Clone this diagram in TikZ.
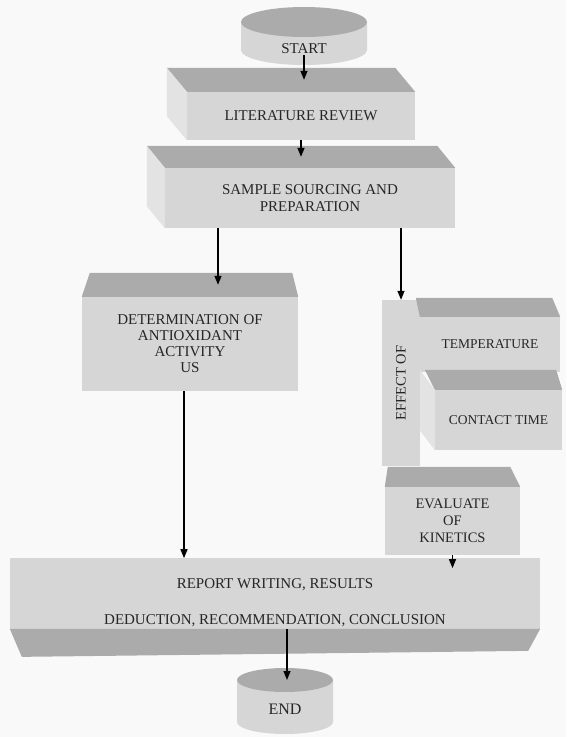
\documentclass[tikz,border=0pt]{standalone}
\usepackage{fontspec}
\setmainfont{Liberation Serif}
\usetikzlibrary{arrows.meta, calc}
\tikzstyle{front} = [fill=gray!32]
\tikzstyle{roof} = [fill=gray!66]
\tikzstyle{flank} = [fill=gray!22]
\tikzstyle{face} = [front, rectangle, inner sep=2pt, align=center, text=black!85, font=\fontsize{15}{17}\selectfont]
\tikzstyle{smalltext} = [font=\fontsize{13.5}{16}\selectfont]
\tikzstyle{midtext} = [font=\fontsize{14.5}{17}\selectfont]
\tikzstyle{flow} = [-{Triangle[length=9pt,width=7pt]}, line width=1.3pt]
\newcommand{\roof}[4]{\fill[roof] (#1.north west) -- (#1.north east) -- ++(#3,#4) -- ($(#1.north west)+(#2,#4)$) -- cycle;}
\newcommand{\flank}[3]{\fill[flank] (#1.north west) -- (#1.south west) -- ++(#2,#3) -- ($(#1.north west)+(#2,#3)$) -- cycle;}
\newcommand{\drum}[6]{%
  \fill[front] (#2-#4,#3) -- (#2-#4,#3+#6) arc[start angle=180, end angle=0, x radius=#4, y radius=#5] -- (#2+#4,#3) -- cycle;
  \fill[roof] (#2,#3) ellipse[x radius=#4, y radius=#5];
  \coordinate (#1-in) at (#2,#3);}
\begin{document}
\begin{tikzpicture}[x=1pt, y=-1pt]
\fill[gray!5] (0,0) rectangle (566,737);
\useasboundingbox (0,0) rectangle (566,737);

\drum{start}{304}{22}{63}{15}{28}
\node[inner sep=1pt, text=black!85, font=\fontsize{15}{17}\selectfont] (start) at (304,49) {START};

\node[face, minimum width=228pt, minimum height=48pt] (lit) at (301,116) {LITERATURE REVIEW};
\roof{lit}{-20}{-20}{-24}
\flank{lit}{-20}{-24}
\coordinate (lit-in) at ([yshift=12pt]lit.north);

\node[face, minimum width=290pt, minimum height=60pt] (sample) at (310,198) {SAMPLE SOURCING AND\\PREPARATION};
\roof{sample}{-18}{-18}{-22}
\flank{sample}{-18}{-22}
\coordinate (sample-in) at ([yshift=11pt]sample.north);

\node[face, minimum width=216pt, minimum height=94pt, font=\fontsize{15}{16}\selectfont] (det) at (190,344) {DETERMINATION OF\\ANTIOXIDANT\\ACTIVITY\\US};
\roof{det}{8}{-6}{-24}
\coordinate (det-in) at ([xshift=28pt,yshift=12pt]det.north);

\node[face, midtext, rotate=90, minimum width=166pt, minimum height=38pt] (effect) at (401,383) {EFFECT OF};

\node[face, smalltext, minimum width=140pt, minimum height=55pt] (temp) at (490,344.5) {TEMPERATURE};
\roof{temp}{-4}{-8}{-19}

\node[face, smalltext, minimum width=127pt, minimum height=60pt] (contact) at (498.5,420) {CONTACT TIME};
\roof{contact}{-10}{-6}{-20}
\flank{contact}{-15}{-20}

\node[face, midtext, minimum width=135pt, minimum height=68pt] (eval) at (452.5,521) {EVALUATE\\OF\\KINETICS};
\roof{eval}{3}{-10}{-20}

\node[face, minimum width=530pt, minimum height=63pt] (report) at (275,593.5) {\rule{0pt}{28pt}REPORT WRITING, RESULTS\\[19pt]DEDUCTION, RECOMMENDATION, CONCLUSION};
\fill[roof] (report.south west) -- (report.south east) -- ++(-12,22) -- ($(report.south west)+(12,28)$) -- cycle;

\drum{stop}{285}{680}{48}{12}{42}
\node[inner sep=1pt, text=black!85, font=\fontsize{16}{18}\selectfont] (stop) at (285,709) {END};

\draw[flow] (start.south) -- (start.south |- lit-in);
\draw[flow] (lit.south) -- (lit.south |- sample-in);
\draw[flow] (sample.south -| det-in) -- (det-in);
\draw[flow] (sample.south -| effect.east) -- (effect.east);
\draw[flow] ([xshift=-6pt]det.south) -- ([xshift=-6pt]det.south |- report.north);
\draw[flow] (eval.south) -- ([yshift=-10pt]eval.south |- report.north);
\draw[flow] ([xshift=12pt]report.south) -- ([xshift=12pt]report.south |- stop-in);
\end{tikzpicture}
\end{document}
